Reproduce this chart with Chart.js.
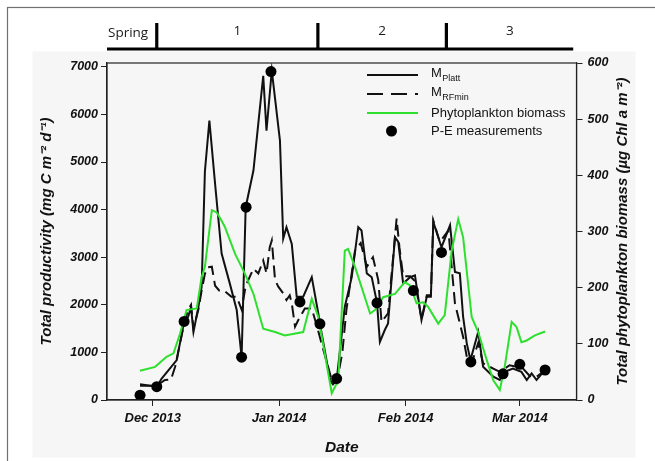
<!DOCTYPE html>
<html>
<head>
<meta charset="utf-8">
<script src="https://cdn.jsdelivr.net/npm/chart.js@4.4.0/dist/chart.umd.min.js"></script>
<style>
  html, body { margin: 0; padding: 0; background: #fff; }
</style>
</head>
<body>
<canvas id="graph" width="655" height="461"></canvas>
<script>
// Days counted from 1 Dec 2013
const mPlatt = [
  [-3.1, 330], [1.0, 280], [2.2, 450], [5.9, 840], [6.7, 1200], [7.7, 1640], [8.7, 1750], [9.4, 1950],
  [10.0, 1430], [11.2, 1950], [12.0, 2380], [12.8, 4800], [13.9, 5870], [15.3, 4540], [16.9, 3075],
  [18.9, 2450], [20.6, 1890], [21.8, 900], [22.8, 4050], [24.7, 4820], [27.1, 6810], [27.9, 5660],
  [29.2, 6920], [31.2, 5450], [32.0, 3390], [32.8, 3630], [34.1, 3280], [35.3, 2170], [36.9, 2170],
  [39.0, 2580], [40.6, 1820], [41.0, 1600], [43.5, 420], [44.2, 330], [45.1, 420], [47.1, 1960],
  [48.8, 2580], [50.4, 3630], [51.2, 3560], [52.5, 2660], [53.7, 2580], [55.0, 2040], [55.7, 1220],
  [56.9, 1470], [57.7, 1610], [59.4, 3420], [60.2, 3320], [61.4, 2450], [63.1, 2580], [64.3, 2620],
  [65.9, 1680], [67.2, 2170], [68.2, 2170], [68.8, 3740], [70.8, 3210], [72.9, 3670], [74.1, 2690],
  [75.3, 2660], [76.1, 1750], [77.0, 1190], [77.9, 840], [79.8, 1430], [81.0, 700], [83.5, 490],
  [85.1, 420], [86.3, 590], [88.3, 660], [90.4, 590], [91.7, 420], [92.9, 560], [94.1, 420], [95.8, 590]
];

const mRFmin = [
  [-3.1, 300], [1.0, 300], [3.0, 420], [4.5, 430], [5.5, 700], [7.7, 1600], [8.7, 1900], [9.4, 2000],
  [10.0, 1500], [11.2, 1900], [12.0, 2300], [12.8, 2650], [13.5, 2790], [14.5, 2800], [15.3, 2400],
  [16.3, 2300], [17.5, 2300], [19.3, 2170], [20.6, 2170], [21.8, 1900], [22.8, 2400], [24.7, 2760],
  [25.9, 2660], [27.1, 2930], [27.9, 2660], [28.7, 3210], [29.2, 3350], [30.0, 2520], [30.8, 2380],
  [32.0, 2240], [32.8, 2100], [33.6, 2200], [34.1, 2030], [34.9, 1540], [35.7, 1680], [37.3, 1920],
  [39.0, 1920], [40.2, 1570], [41.4, 1190], [43.9, 420], [45.1, 350], [46.5, 1000], [47.5, 1900],
  [49.6, 3140], [51.0, 3300], [52.5, 2800], [54.0, 3000], [55.3, 2520], [56.1, 1640], [57.7, 1820],
  [59.8, 3810], [60.5, 3200], [61.4, 2600], [63.1, 2600], [64.3, 2500], [65.9, 1700], [67.2, 2200],
  [68.2, 2200], [68.8, 3770], [70.4, 3320], [72.5, 3560], [74.1, 2030], [76.1, 1330], [77.3, 770],
  [78.3, 800], [79.8, 1200], [81.0, 770], [83.5, 660], [85.1, 590], [87.5, 730], [89.2, 700],
  [90.8, 660], [92.5, 500], [94.0, 480], [95.8, 600]
];

const chlBiomass = [
  [-3.1, 52], [0.6, 59], [3.4, 77], [5.1, 83], [6.7, 118], [8.3, 160], [10.8, 163], [12.0, 219],
  [12.8, 237], [14.5, 338], [15.7, 334], [16.9, 319], [17.7, 308], [20.2, 260], [22.6, 225],
  [24.7, 189], [27.1, 127], [30.0, 121], [32.4, 115], [36.9, 121], [39.0, 180], [40.6, 148],
  [43.9, 12], [45.5, 35], [47.1, 266], [47.9, 269], [49.6, 237], [53.3, 154], [54.5, 160],
  [56.5, 183], [59.4, 189], [61.8, 210], [63.1, 204], [64.7, 172], [66.3, 174], [67.5, 166],
  [70.0, 136], [71.6, 151], [73.3, 266], [74.9, 322], [76.1, 290], [78.2, 148], [79.8, 121],
  [81.9, 71], [83.5, 35], [85.1, 18], [86.3, 59], [88.0, 139], [89.2, 130], [90.4, 103],
  [91.7, 106], [93.7, 115], [96.2, 122]
];

const peMeasured = [
  [-3.1, 100], [1.0, 280], [7.7, 1650], [21.8, 900], [22.9, 4050], [29.0, 6900], [36.1, 2060],
  [41.0, 1600], [45.1, 450], [55.0, 2040], [63.9, 2300], [70.8, 3100], [78.0, 800], [85.9, 550],
  [90.0, 750], [96.2, 630]
];

const monthDays = [0, 31, 62, 90];
const monthLabels = ["Dec 2013", "Jan 2014", "Feb 2014", "Mar 2014"];
const leftTicks = [0, 1000, 2000, 3000, 4000, 5000, 6000, 7000];
const rightTicks = [0, 100, 200, 300, 400, 500, 600];

const phaseSpan = [-11.2, 103.1];
const phaseBreaks = [1.0, 40.5, 72.0];
const phaseLabels = ["Spring", "1", "2", "3"];

const legendRows = [
  { main: "M", sub: "Platt" },
  { main: "M", sub: "RFmin" },
  { main: "Phytoplankton biomass", sub: "" },
  { main: "P-E measurements", sub: "" }
];

const rightTitle = "Total phytoplankton biomass (\u00B5g Chl a m\u207B\u00B2)";

const GREEN = "#2ee02e";
const INK = "#111111";
const DASH = [12, 6];

const toXY = (pairs) => pairs.map(([d, v]) => ({ x: d, y: v }));
const FAMILY = "'Liberation Sans', Arial, sans-serif";
const axisFont = { family: FAMILY, size: 12.5, style: "italic", weight: "bold" };

// light grey panel + outer frame
const backdrop = {
  id: "backdrop",
  beforeDraw(chart) {
    const ctx = chart.ctx;
    ctx.save();
    ctx.fillStyle = "#ffffff";
    ctx.fillRect(0, 0, chart.width, chart.height);
    ctx.fillStyle = "#f6f6f6";
    ctx.fillRect(32.5, 51.5, 603, 406);
    ctx.strokeStyle = "#707070";
    ctx.lineWidth = 1.2;
    ctx.strokeRect(7.5, 7.5, 700, 500);
    ctx.restore();
  }
};

// frame round the plot, right title (reads upwards) and the phase bar on top
const extras = {
  id: "extras",
  afterDraw(chart) {
    const { ctx, chartArea, scales } = chart;
    const x = scales.x;
    ctx.save();
    ctx.strokeStyle = "#222";
    ctx.lineWidth = 1.2;
    ctx.strokeRect(chartArea.left, chartArea.top, chartArea.right - chartArea.left, chartArea.bottom - chartArea.top);

    ctx.save();
    ctx.translate(623, (chartArea.top + chartArea.bottom) / 2);
    ctx.rotate(-Math.PI / 2);
    ctx.fillStyle = "#111";
    ctx.font = "italic bold 15px " + FAMILY;
    ctx.textAlign = "center";
    ctx.textBaseline = "middle";
    ctx.fillText(rightTitle, 0, 0);
    ctx.restore();

    const yBar = 49, yTop = 23;
    ctx.strokeStyle = "#000";
    ctx.lineWidth = 3.2;
    ctx.beginPath();
    ctx.moveTo(x.getPixelForValue(phaseSpan[0]), yBar);
    ctx.lineTo(x.getPixelForValue(phaseSpan[1]), yBar);
    ctx.stroke();
    phaseBreaks.forEach((d) => {
      const px = x.getPixelForValue(d);
      ctx.beginPath();
      ctx.moveTo(px, yTop);
      ctx.lineTo(px, yBar + 1);
      ctx.stroke();
    });

    const edges = [phaseSpan[0], ...phaseBreaks, phaseSpan[1]];
    ctx.fillStyle = "#1a1a1a";
    ctx.font = "13.5px 'Open Sans', sans-serif";
    ctx.textBaseline = "middle";
    phaseLabels.forEach((label, i) => {
      const a = x.getPixelForValue(edges[i]);
      const b = x.getPixelForValue(edges[i + 1]);
      if (i === 0) {
        ctx.textAlign = "left";
        ctx.fillText(label, a + 1, 33);
      } else {
        ctx.textAlign = "center";
        ctx.fillText(label, (a + b) / 2, 31);
      }
    });
    ctx.restore();
  }
};

// legend inside the plot
const legendBox = {
  id: "legendBox",
  afterDraw(chart) {
    const ctx = chart.ctx;
    const x0 = 367, x1 = 418, tx = 431;
    const rowY = [75, 94, 113, 131];
    ctx.save();
    legendRows.forEach((row, i) => {
      const y = rowY[i];
      ctx.beginPath();
      if (i === 3) {
        ctx.fillStyle = "#000";
        ctx.arc((x0 + x1) / 2 - 1, y, 5.5, 0, Math.PI * 2);
        ctx.fill();
      } else {
        ctx.strokeStyle = i === 2 ? GREEN : INK;
        ctx.lineWidth = 2;
        ctx.setLineDash(i === 1 ? [16, 8] : []);
        ctx.moveTo(x0, y);
        ctx.lineTo(x1, y);
        ctx.stroke();
        ctx.setLineDash([]);
      }
      ctx.fillStyle = "#111";
      ctx.textAlign = "left";
      ctx.textBaseline = "middle";
      ctx.font = "13px " + FAMILY;
      const ty = i < 2 ? y - 1.5 : y;
      ctx.fillText(row.main, tx, ty);
      if (row.sub) {
        const w = ctx.measureText(row.main).width;
        ctx.font = "9px " + FAMILY;
        ctx.fillText(row.sub, tx + w + 0.5, ty + 5);
      }
    });
    ctx.restore();
  }
};

const ctx = document.getElementById("graph").getContext("2d");
new Chart(ctx, {
  type: "line",
  data: {
    datasets: [
      {
        label: "P-E measurements",
        data: toXY(peMeasured),
        yAxisID: "y",
        showLine: false,
        pointRadius: 5.5,
        pointBackgroundColor: "#000",
        pointBorderWidth: 0,
        order: 0
      },
      {
        label: "Phytoplankton biomass",
        data: toXY(chlBiomass),
        yAxisID: "y2",
        borderColor: GREEN,
        borderWidth: 2,
        pointRadius: 0,
        tension: 0,
        order: 1
      },
      {
        label: "MRFmin",
        data: toXY(mRFmin),
        yAxisID: "y",
        borderColor: INK,
        borderWidth: 2,
        borderDash: DASH,
        pointRadius: 0,
        tension: 0,
        order: 2
      },
      {
        label: "MPlatt",
        data: toXY(mPlatt),
        yAxisID: "y",
        borderColor: INK,
        borderWidth: 2,
        pointRadius: 0,
        tension: 0,
        order: 3
      }
    ]
  },
  options: {
    responsive: false,
    animation: false,
    layout: { padding: { top: 63, left: 0, right: 0, bottom: 0 } },
    plugins: { legend: { display: false }, tooltip: { enabled: false } },
    scales: {
      x: {
        type: "linear",
        min: -11.2,
        max: 103.9,
        afterBuildTicks: (scale) => { scale.ticks = monthDays.map((v) => ({ value: v })); },
        afterFit: (scale) => { scale.height = 61; },
        ticks: {
          font: { ...axisFont, size: 13 },
          color: "#111",
          padding: 5,
          maxRotation: 0,
          callback: (value, index) => monthLabels[index]
        },
        grid: { drawOnChartArea: false, drawTicks: true, tickLength: 6, color: "#222" },
        border: { color: "#222", width: 1.2 },
        title: {
          display: true,
          text: "Date",
          color: "#111",
          font: { ...axisFont, size: 15.5 },
          padding: { top: 0, bottom: 3.7 }
        }
      },
      y: {
        position: "left",
        min: 0,
        max: 7080,
        afterBuildTicks: (scale) => { scale.ticks = leftTicks.map((v) => ({ value: v })); },
        afterFit: (scale) => { scale.width = 107; },
        ticks: { font: axisFont, color: "#111", padding: 3, callback: (v) => String(v) },
        grid: { drawOnChartArea: false, drawTicks: true, tickLength: 6, color: "#222" },
        border: { color: "#222", width: 1.2 },
        title: {
          display: true,
          text: "Total productivity (mg C m\u207B\u00B2 d\u207B\u00B9)",
          color: "#111",
          font: { ...axisFont, size: 15 },
          padding: { top: 37.5, bottom: 0 }
        }
      },
      y2: {
        position: "right",
        min: 0,
        max: 600,
        afterBuildTicks: (scale) => { scale.ticks = rightTicks.map((v) => ({ value: v })); },
        afterFit: (scale) => { scale.width = 78.5; },
        ticks: { font: axisFont, color: "#111", padding: 5, callback: (v) => String(v) },
        grid: { drawOnChartArea: false, drawTicks: true, tickLength: 6, color: "#222" },
        border: { color: "#222", width: 1.2 },
        title: { display: false }
      }
    }
  },
  plugins: [backdrop, extras, legendBox]
});
</script>
</body>
</html>
